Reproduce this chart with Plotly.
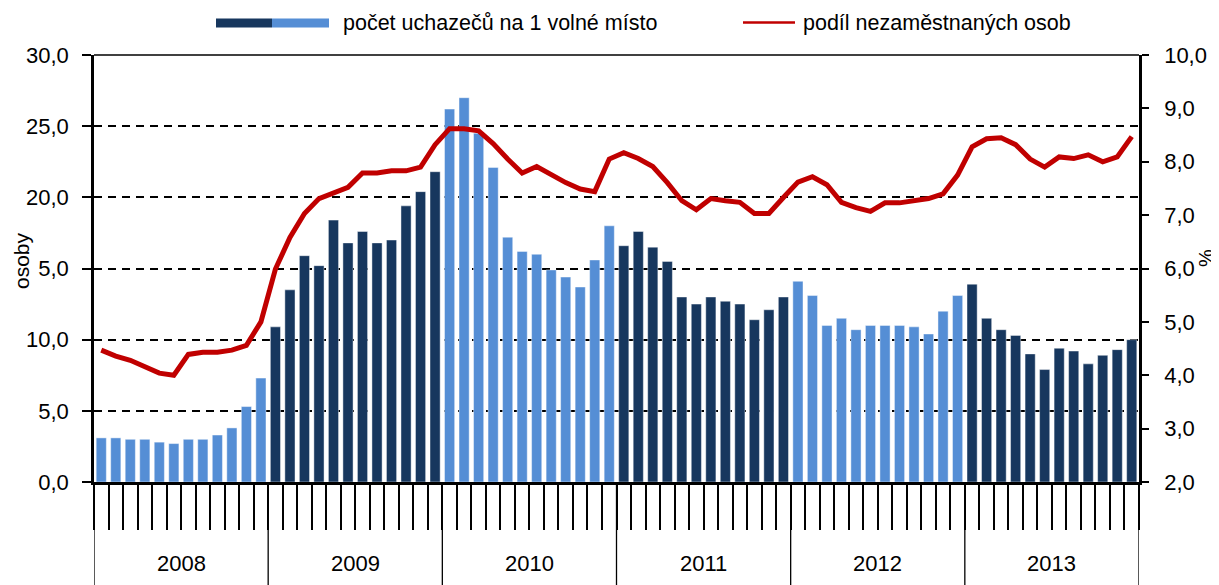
import plotly.graph_objects as go

years = ["2008", "2009", "2010", "2011", "2012", "2013"]

uchazeci = [
    3.1, 3.1, 3.0, 3.0, 2.8, 2.7, 3.0, 3.0, 3.3, 3.8, 5.3, 7.3,
    10.9, 13.5, 15.9, 15.2, 18.4, 16.8, 17.6, 16.8, 17.0, 19.4, 20.4, 21.8,
    26.2, 27.0, 24.5, 22.1, 17.2, 16.2, 16.0, 14.9, 14.4, 13.7, 15.6, 18.0,
    16.6, 17.6, 16.5, 15.5, 13.0, 12.5, 13.0, 12.7, 12.5, 11.4, 12.1, 13.0,
    14.1, 13.1, 11.0, 11.5, 10.7, 11.0, 11.0, 11.0, 10.9, 10.4, 12.0, 13.1,
    13.9, 11.5, 10.7, 10.3, 9.0, 7.9, 9.4, 9.2, 8.3, 8.9, 9.3, 10.0,
]

podil = [
    4.47, 4.36, 4.28, 4.15, 4.04, 4.00, 4.39, 4.43, 4.43, 4.47, 4.56, 5.00,
    5.99, 6.58, 7.03, 7.31, 7.42, 7.52, 7.79, 7.79, 7.83, 7.83, 7.90, 8.32,
    8.62, 8.62, 8.58, 8.34, 8.05, 7.79, 7.91, 7.75, 7.61, 7.49, 7.44, 8.05,
    8.17, 8.06, 7.91, 7.61, 7.27, 7.10, 7.31, 7.27, 7.24, 7.03, 7.03, 7.33,
    7.62, 7.72, 7.57, 7.24, 7.14, 7.07, 7.23, 7.23, 7.27, 7.31, 7.40, 7.75,
    8.28, 8.43, 8.45, 8.32, 8.05, 7.90, 8.09, 8.06, 8.13, 8.00, 8.09, 8.47,
]

left_ticks = [0, 5, 10, 15, 20, 25, 30]
left_labels = ["0,0", "5,0", "10,0", "5,0", "20,0", "25,0", "30,0"]
right_ticks = [2, 3, 4, 5, 6, 7, 8, 9, 10]
right_labels = ["2,0", "3,0", "4,0", "5,0", "6,0", "7,0", "8,0", "9,0", "10,0"]

bar_name = "počet uchazečů na 1 volné místo"
line_name = "podíl nezaměstnaných osob"

DARK = "#17375E"
LIGHT = "#558ED5"
RED = "#C00000"
FONT = "Liberation Sans, Arial, sans-serif"

n = len(uchazeci)
x = list(range(n))
bar_colors = [LIGHT if (i // 12) % 2 == 0 else DARK for i in range(n)]

fig = go.Figure()
fig.add_trace(go.Bar(
    x=x, y=uchazeci, marker=dict(color=bar_colors, line=dict(color="rgba(255,255,255,0.55)", width=0.8)),
    name=bar_name, showlegend=False, yaxis="y",
))
fig.add_trace(go.Scatter(
    x=x, y=podil, mode="lines", line=dict(color=RED, width=5),
    name=line_name, showlegend=False, yaxis="y2",
))

# page is offset by the 8px body margin; plot area in page pixels:
PL, PT, PR, PB = 94, 55, 1139, 482
OFF = 8
W, H = 1219 - OFF, 585 - OFF
L, T = PL - OFF, PT - OFF
R, B = W - (PR - OFF), H - (PB - OFF)
pw, ph = PR - PL, PB - PT

def px(xp):
    return (xp - PL) / pw

def py(yp):
    return (PB - yp) / ph

shapes = []
for k in range(len(years) + 1):
    xv = -0.5 + 12 * k
    shapes.append(dict(type="line", xref="x", yref="paper", x0=xv, x1=xv,
                       y0=0, y1=py(590), line=dict(color="black", width=1.3)))
shapes.append(dict(type="line", xref="paper", yref="paper", x0=0, x1=1, y0=1, y1=1,
                   line=dict(color="black", width=1.5), layer="above"))
shapes.append(dict(type="rect", xref="paper", yref="paper", x0=px(216), x1=px(272),
                   y0=py(27.5), y1=py(18.5), fillcolor=DARK, line=dict(width=0)))
shapes.append(dict(type="rect", xref="paper", yref="paper", x0=px(272), x1=px(329),
                   y0=py(27.5), y1=py(18.5), fillcolor=LIGHT, line=dict(width=0)))
shapes.append(dict(type="line", xref="paper", yref="paper", x0=px(743), x1=px(795),
                   y0=py(22.5), y1=py(22.5), line=dict(color=RED, width=2.5)))

annotations = []
for k, yr in enumerate(years):
    annotations.append(dict(text=yr, x=5.5 + 12 * k, y=py(563), xref="x", yref="paper",
                            xanchor="center", yanchor="middle", showarrow=False,
                            font=dict(size=22, color="black", family=FONT)))
annotations.append(dict(text=bar_name, x=px(341), y=py(23), xref="paper", yref="paper",
                        xanchor="left", yanchor="middle", showarrow=False,
                        font=dict(size=21.5, color="black", family=FONT)))
annotations.append(dict(text=line_name, x=px(801), y=py(23), xref="paper", yref="paper",
                        xanchor="left", yanchor="middle", showarrow=False,
                        font=dict(size=21.5, color="black", family=FONT)))
annotations.append(dict(text="osoby", x=px(21), y=py(261), xref="paper", yref="paper",
                        xanchor="center", yanchor="middle", textangle=-90, showarrow=False,
                        font=dict(size=21, color="black", family=FONT)))
annotations.append(dict(text="%", x=px(1206), y=py(258), xref="paper", yref="paper",
                        xanchor="center", yanchor="middle", textangle=-90, showarrow=False,
                        font=dict(size=20, color="black", family=FONT)))

fig.update_layout(
    width=W, height=H,
    margin=dict(l=L, r=R, t=T, b=B, pad=0, autoexpand=False),
    paper_bgcolor="white", plot_bgcolor="white",
    font=dict(family=FONT, size=22, color="black"),
    bargap=0.3,
    showlegend=False,
    shapes=shapes,
    annotations=annotations,
    xaxis=dict(
        range=[-0.5, n - 0.5], tickmode="array", tickvals=[i - 0.5 for i in range(n + 1)],
        showticklabels=False, ticks="outside", ticklen=45, tickwidth=2, tickcolor="black",
        showgrid=False, zeroline=False, showline=True, linecolor="black", linewidth=3,
        fixedrange=True,
    ),
    yaxis=dict(
        range=[0, 30], tickmode="array", tickvals=left_ticks, ticktext=left_labels,
        ticks="outside", ticklen=9, tickwidth=1.5, tickcolor="black",
        showgrid=True, gridcolor="black", gridwidth=1.5, griddash="8px,6px",
        zeroline=False, showline=True, linecolor="black", linewidth=2.5,
        tickfont=dict(size=22), ticklabelstandoff=9,
    ),
    yaxis2=dict(
        range=[2, 10], overlaying="y", side="right", tickmode="array",
        tickvals=right_ticks, ticktext=right_labels,
        ticks="outside", ticklen=7, tickwidth=1.5, tickcolor="black",
        showgrid=False, zeroline=False, showline=True, linecolor="black", linewidth=2.5,
        tickfont=dict(size=22), ticklabelstandoff=11,
    ),
)

fig.write_html("out.html")
